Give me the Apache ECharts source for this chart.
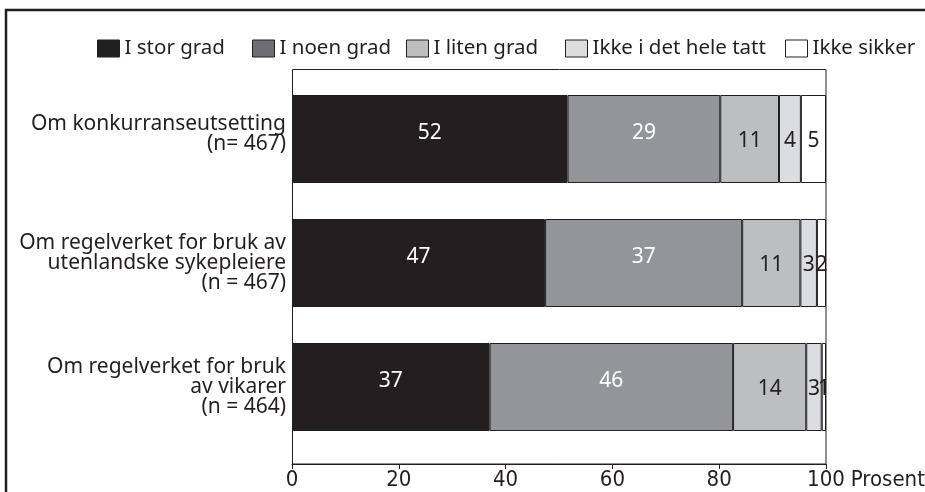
<!DOCTYPE html>
<html><head><meta charset="utf-8">
<script src="https://cdn.jsdelivr.net/npm/echarts@6/dist/echarts.min.js"></script>
<style>html,body{margin:0;padding:0;background:#fff}#c{width:925px;height:492px}</style>
</head><body><div id="c"></div>
<script>
const categories = [
  "Om konkurranseutsetting\n(n= 467)",
  "Om regelverket for bruk av\nutenlandske sykepleiere\n(n = 467)",
  "Om regelverket for bruk\nav vikarer\n(n = 464)"
];
const seriesNames = ["I stor grad", "I noen grad", "I liten grad", "Ikke i det hele tatt", "Ikke sikker"];
const storGrad   = [51.6, 47.4, 37.0];
const noenGrad   = [28.6, 36.9, 45.6];
const litenGrad  = [11.0, 10.9, 13.7];
const ikkeHele   = [4.1, 3.1, 2.9];
const ikkeSikker = [4.7, 1.7, 0.8];
const xTicks = [0, 20, 40, 60, 80, 100];

const FONT = "'Noto Sans', 'Open Sans', sans-serif";
const COND = "'Liberation Sans Narrow', 'DejaVu Sans Condensed', sans-serif";
const INK = '#231f20';
const barColors = ['#231f20', '#939598', '#bcbec0', '#dcdde0', '#ffffff'];
const legendColors = ['#231f20', '#6d6e71', '#bcbec0', '#dcdde0', '#ffffff'];
const labelColors = ['#ffffff', '#ffffff', INK, INK, INK];
const labelOffsets = [[0, -6], [0, -6], [0, 2], [0, 2], [0, 2]];
const legendLeft = [97, 252, 406, 565, 785];
const allData = [storGrad, noenGrad, litenGrad, ikkeHele, ikkeSikker];

const chart = echarts.init(document.getElementById('c'), null, {renderer: 'canvas'});
chart.setOption({
  animation: false,
  grid: {left: 292, right: 99, top: 77, height: 372, containLabel: false, outerBoundsMode: 'none'},
  legend: seriesNames.map((n, i) => ({
    left: legendLeft[i], top: 38, padding: 0, itemGap: 0,
    itemWidth: 22, itemHeight: 17, selectedMode: false,
    textStyle: {fontFamily: FONT, fontSize: 20.5, color: INK},
    data: [{name: n, icon: 'rect', itemStyle: {color: legendColors[i], borderColor: INK, borderWidth: 1}}]
  })),
  xAxis: {
    type: 'value', min: 0, max: 100, interval: 20, offset: 15,
    axisLine: {show: true, lineStyle: {color: INK, width: 1}},
    axisTick: {show: true, length: 5, lineStyle: {color: INK}},
    splitLine: {show: false},
    axisLabel: {fontFamily: COND, fontSize: 22, color: INK, margin: 5,
      formatter: v => xTicks.includes(v) ? String(v) : ''},
    name: 'Prosent', nameLocation: 'end', nameGap: 5,
    nameTextStyle: {fontFamily: COND, fontSize: 22, color: INK, verticalAlign: 'top', padding: [5, 0, 0, 0]}
  },
  yAxis: {
    type: 'category', inverse: true, data: categories,
    axisLine: {show: false}, axisTick: {show: false},
    axisLabel: {fontFamily: FONT, fontSize: 21, color: INK, margin: 6, lineHeight: 20, align: 'right',
      formatter: (v, i) => i === 0 ? v + '\n{s|}' : v,
      rich: {s: {lineHeight: 9, fontSize: 1}}}
  },
  graphic: [
    {type: 'rect', silent: true, z: 0, shape: {x: 292.5, y: 69.5, width: 533.5, height: 394.5},
      style: {fill: 'none', stroke: INK, lineWidth: 1}},
    {type: 'polyline', silent: true, shape: {points: [[6, 492], [6, 10], [925, 10]]},
      style: {fill: 'none', stroke: INK, lineWidth: 2.5}}
  ],
  series: seriesNames.map((n, i) => ({
    name: n, type: 'bar', stack: 'total', barWidth: 88, data: allData[i],
    itemStyle: {color: barColors[i], borderColor: INK, borderWidth: 1},
    label: {show: true, position: 'inside', offset: labelOffsets[i],
      fontFamily: FONT, fontSize: 21, color: labelColors[i],
      formatter: p => String(Math.round(p.value))}
  }))
});
</script></body></html>
